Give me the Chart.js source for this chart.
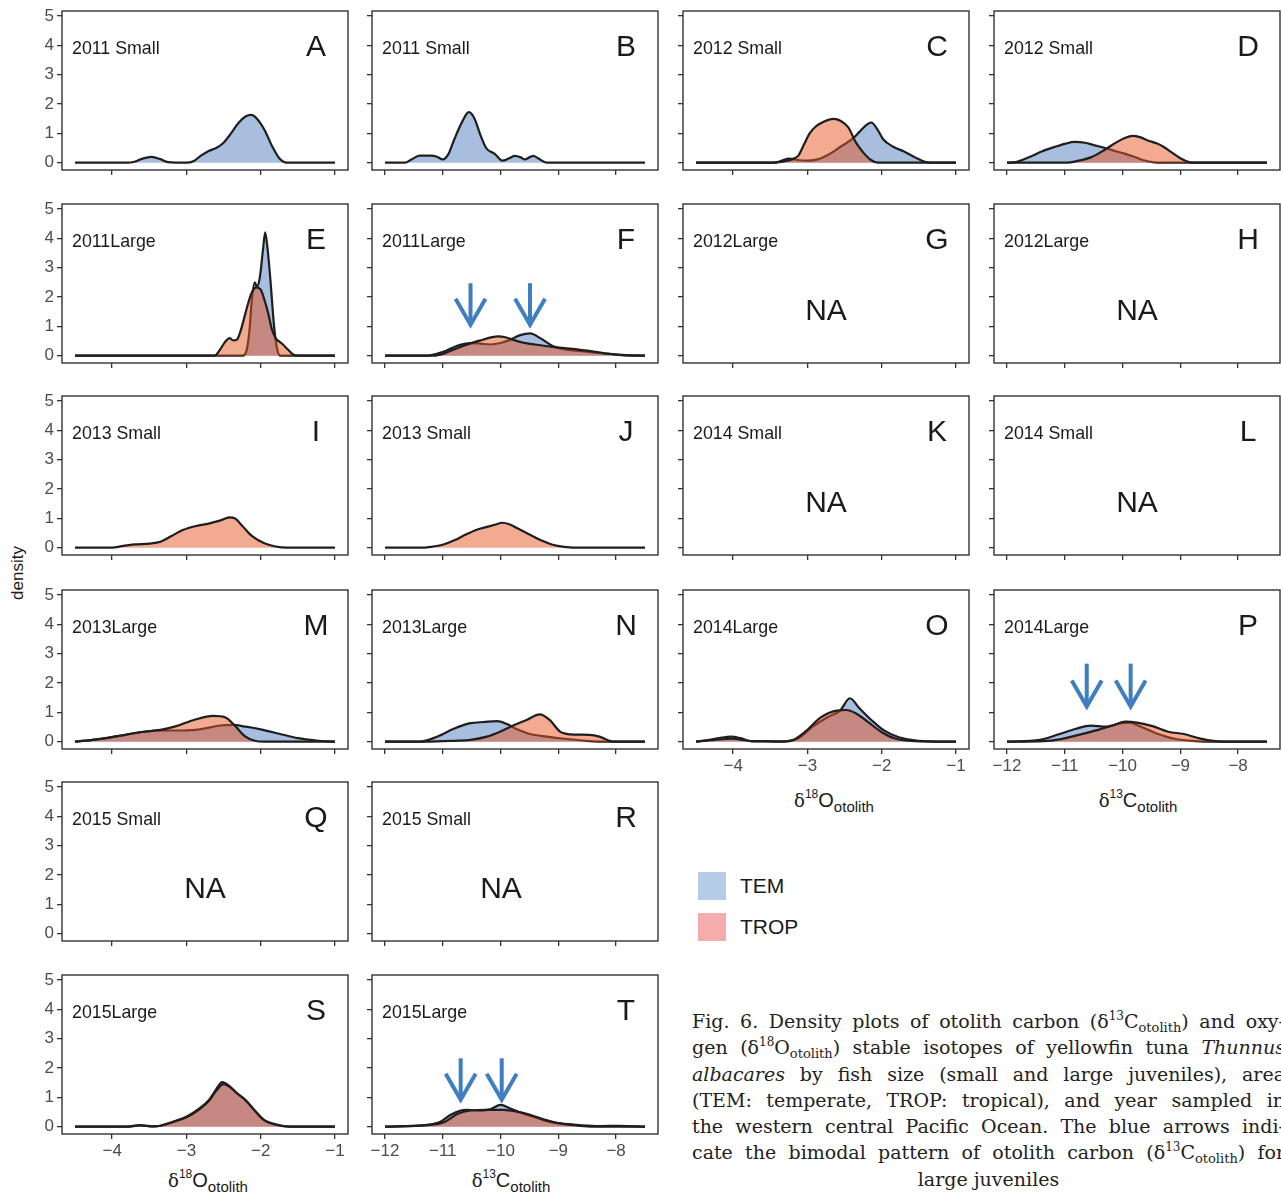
<!DOCTYPE html>
<html>
<head>
<meta charset="utf-8">
<script src="https://cdn.jsdelivr.net/npm/chart.js@4.4.1/dist/chart.umd.min.js"></script>
<style>
html, body { margin: 0; padding: 0; background: #fff; overflow: hidden; }
body { width: 1281px; height: 1194px; position: relative; font-family: "Liberation Sans", Arial, sans-serif; color: #1a1a1a; }
.abs { position: absolute; white-space: nowrap; }
.lab { font-size: 17.8px; line-height: 20px; }
.let { font-size: 30px; line-height: 30px; width: 40px; text-align: center; }
.na { font-size: 30px; line-height: 30px; width: 100px; text-align: center; }
.ttl { font-size: 20px; line-height: 24px; transform: translateX(-50%); }
.ttl .d { font-family: "DejaVu Serif", serif; font-size: 18px; }
.ttl sup { font-size: 12px; vertical-align: 9px; line-height: 0; }
.ttl sub { font-size: 15px; vertical-align: -5px; line-height: 0; }
.lg { font-size: 21px; line-height: 24px; }
.cap { position: absolute; left: 692px; width: 593px; font-family: "DejaVu Serif", serif; font-size: 19px; line-height: 26px; text-align: justify; text-align-last: justify; white-space: nowrap; color: #222; }
.cap.last { text-align: center; text-align-last: center; }
.cap sup { font-size: 12px; vertical-align: 8px; line-height: 0; }
.cap sub { font-size: 13px; vertical-align: -4px; line-height: 0; }
</style>
</head>
<body>

<div class="abs" style="left:8px;top:563px;width:20px;height:20px;">
  <div style="position:absolute;left:50%;top:50%;transform:translate(-50%,-50%) rotate(-90deg);font-size:17px;">density</div>
</div>

<div class="abs ttl" style="left:208px;top:1168px;"><span class="d">δ</span><sup>18</sup>O<sub>otolith</sub></div>
<div class="abs ttl" style="left:511px;top:1168px;"><span class="d">δ</span><sup>13</sup>C<sub>otolith</sub></div>
<div class="abs ttl" style="left:834px;top:788px;"><span class="d">δ</span><sup>18</sup>O<sub>otolith</sub></div>
<div class="abs ttl" style="left:1138px;top:788px;"><span class="d">δ</span><sup>13</sup>C<sub>otolith</sub></div>

<div class="abs" style="left:698px;top:872px;width:28px;height:28px;background:#b4cce5;"></div>
<div class="abs lg" style="left:740px;top:874px;">TEM</div>
<div class="abs" style="left:698px;top:913px;width:28px;height:28px;background:#f4acac;"></div>
<div class="abs lg" style="left:740px;top:915px;">TROP</div>

<div class="cap" style="top:1008px;">Fig. 6. Density plots of otolith carbon (δ<sup>13</sup>C<sub>otolith</sub>) and oxy-</div>
<div class="cap" style="top:1034px;">gen (δ<sup>18</sup>O<sub>otolith</sub>) stable isotopes of yellowfin tuna <i>Thunnus</i></div>
<div class="cap" style="top:1061px;"><i>albacares</i> by fish size (small and large juveniles), area</div>
<div class="cap" style="top:1087px;">(TEM: temperate, TROP: tropical), and year sampled in</div>
<div class="cap" style="top:1113px;">the western central Pacific Ocean. The blue arrows indi-</div>
<div class="cap" style="top:1139px;">cate the bimodal pattern of otolith carbon (δ<sup>13</sup>C<sub>otolith</sub>) for</div>
<div class="cap last" style="top:1166px;">large juveniles</div>

<script>
// density curves: [isotope value, density]
var A_tem = [[-4.5,0],[-3.8,0],[-3.7,0.03],[-3.6,0.13],[-3.47,0.2],[-3.35,0.12],[-3.25,0.02],[-3.0,0],[-2.9,0.06],[-2.8,0.25],[-2.7,0.4],[-2.6,0.5],[-2.5,0.68],[-2.4,1.0],[-2.3,1.35],[-2.2,1.58],[-2.13,1.63],[-2.05,1.5],[-1.95,1.12],[-1.85,0.58],[-1.75,0.15],[-1.65,0],[-1,0]];
var B_tem = [[-12,0],[-11.65,0],[-11.55,0.1],[-11.4,0.24],[-11.2,0.24],[-11.1,0.2],[-11.0,0.11],[-10.9,0.3],[-10.8,0.8],[-10.65,1.45],[-10.55,1.72],[-10.45,1.5],[-10.35,0.95],[-10.25,0.5],[-10.1,0.3],[-9.97,0.07],[-9.85,0.15],[-9.75,0.23],[-9.65,0.18],[-9.58,0.11],[-9.5,0.18],[-9.43,0.23],[-9.35,0.15],[-9.2,0],[-7.5,0]];
var C_tem = [[-4.5,0],[-3.45,0],[-3.35,0.06],[-3.25,0.14],[-3.15,0.1],[-3.0,0.07],[-2.85,0.12],[-2.7,0.3],[-2.55,0.55],[-2.4,0.8],[-2.3,1.05],[-2.2,1.3],[-2.14,1.37],[-2.05,1.1],[-1.98,0.8],[-1.85,0.55],[-1.7,0.38],[-1.55,0.18],[-1.42,0.03],[-1.35,0],[-1,0]];
var C_trop = [[-4.5,0],[-3.45,0],[-3.3,0.05],[-3.2,0.12],[-3.12,0.25],[-3.05,0.6],[-2.97,1.0],[-2.88,1.25],[-2.8,1.37],[-2.65,1.49],[-2.55,1.42],[-2.45,1.2],[-2.35,0.7],[-2.25,0.35],[-2.15,0.1],[-2.05,0],[-1,0]];
var D_tem = [[-12,0],[-11.85,0.02],[-11.6,0.2],[-11.4,0.38],[-11.2,0.52],[-11.0,0.64],[-10.83,0.71],[-10.65,0.68],[-10.5,0.6],[-10.3,0.5],[-10.1,0.38],[-9.95,0.3],[-9.8,0.2],[-9.65,0.09],[-9.45,0.01],[-9.3,0],[-7.5,0]];
var D_trop = [[-12,0],[-10.95,0],[-10.8,0.05],[-10.55,0.18],[-10.3,0.45],[-10.1,0.7],[-9.95,0.85],[-9.83,0.91],[-9.7,0.87],[-9.55,0.75],[-9.4,0.65],[-9.3,0.55],[-9.15,0.35],[-9.0,0.15],[-8.85,0.02],[-8.75,0],[-7.5,0]];
var E_tem = [[-4.5,0],[-2.25,0],[-2.2,0.1],[-2.15,0.9],[-2.12,1.9],[-2.08,2.5],[-2.05,2.35],[-2.01,2.7],[-1.97,3.6],[-1.94,4.2],[-1.91,3.7],[-1.87,2.6],[-1.82,1.0],[-1.78,0.25],[-1.74,0],[-1,0]];
var E_trop = [[-4.5,0],[-2.62,0],[-2.55,0.2],[-2.47,0.5],[-2.42,0.6],[-2.37,0.52],[-2.32,0.55],[-2.27,0.85],[-2.2,1.5],[-2.13,2.1],[-2.06,2.33],[-2.0,2.25],[-1.95,1.9],[-1.9,1.45],[-1.85,0.9],[-1.8,0.6],[-1.75,0.48],[-1.7,0.38],[-1.63,0.2],[-1.55,0.02],[-1.5,0],[-1,0]];
var F_tem = [[-12,0],[-11.3,0],[-11.2,0.02],[-10.98,0.14],[-10.75,0.34],[-10.52,0.43],[-10.35,0.41],[-10.18,0.38],[-10.0,0.43],[-9.85,0.53],[-9.66,0.7],[-9.49,0.76],[-9.3,0.58],[-9.1,0.33],[-8.9,0.22],[-8.6,0.15],[-8.3,0.09],[-7.9,0.03],[-7.5,0]];
var F_trop = [[-12,0],[-11.15,0],[-11.0,0.06],[-10.85,0.18],[-10.64,0.34],[-10.35,0.52],[-10.15,0.63],[-10.05,0.66],[-9.9,0.62],[-9.75,0.52],[-9.6,0.44],[-9.4,0.38],[-9.1,0.3],[-8.8,0.24],[-8.5,0.17],[-8.2,0.08],[-7.9,0.02],[-7.5,0]];
var I_trop = [[-4.5,0],[-4.0,0],[-3.85,0.06],[-3.7,0.11],[-3.5,0.14],[-3.35,0.2],[-3.2,0.4],[-3.05,0.6],[-2.87,0.74],[-2.7,0.82],[-2.55,0.92],[-2.42,1.03],[-2.35,1.0],[-2.25,0.75],[-2.12,0.4],[-1.95,0.15],[-1.8,0.04],[-1.65,0],[-1,0]];
var J_trop = [[-12,0],[-11.4,0],[-11.2,0.03],[-11.0,0.1],[-10.8,0.25],[-10.6,0.45],[-10.4,0.62],[-10.25,0.7],[-10.1,0.78],[-9.97,0.85],[-9.85,0.8],[-9.7,0.65],[-9.5,0.45],[-9.3,0.25],[-9.1,0.1],[-8.9,0.03],[-8.6,0],[-7.5,0]];
var M_tem = [[-4.5,0],[-4.2,0.08],[-3.9,0.2],[-3.6,0.33],[-3.3,0.38],[-3.05,0.38],[-2.8,0.43],[-2.55,0.55],[-2.37,0.57],[-2.2,0.51],[-2.0,0.42],[-1.75,0.27],[-1.5,0.12],[-1.25,0.04],[-1.0,0]];
var M_trop = [[-4.5,0],[-4.2,0.08],[-3.9,0.2],[-3.6,0.33],[-3.35,0.4],[-3.15,0.52],[-2.9,0.74],[-2.64,0.88],[-2.48,0.83],[-2.35,0.55],[-2.22,0.2],[-2.08,0.03],[-1.95,0],[-1,0]];
var N_tem = [[-12,0],[-11.4,0],[-11.1,0.17],[-10.8,0.45],[-10.52,0.63],[-10.29,0.67],[-10.06,0.7],[-9.89,0.6],[-9.72,0.43],[-9.49,0.26],[-9.2,0.17],[-8.86,0.09],[-8.52,0.03],[-8.1,0],[-7.5,0]];
var N_trop = [[-12,0],[-11.3,0],[-10.8,0.03],[-10.52,0.06],[-10.24,0.17],[-10.01,0.34],[-9.78,0.55],[-9.55,0.74],[-9.32,0.93],[-9.15,0.74],[-8.97,0.34],[-8.8,0.25],[-8.46,0.23],[-8.29,0.17],[-8.1,0.02],[-8.0,0],[-7.5,0]];
var O_tem = [[-4.5,0],[-4.34,0.05],[-4.15,0.14],[-4.03,0.17],[-3.9,0.12],[-3.76,0.02],[-3.6,0.02],[-3.4,0],[-3.13,0.11],[-2.93,0.51],[-2.72,0.85],[-2.56,1.06],[-2.43,1.48],[-2.3,1.14],[-2.14,0.74],[-1.98,0.4],[-1.77,0.15],[-1.51,0.03],[-1.0,0]];
var O_trop = [[-4.5,0],[-4.29,0.05],[-4.1,0.09],[-4.0,0.1],[-3.9,0.07],[-3.76,0.02],[-3.5,0.01],[-3.3,0.01],[-3.19,0.06],[-3.03,0.34],[-2.82,0.83],[-2.61,1.06],[-2.48,1.08],[-2.35,0.97],[-2.19,0.68],[-2.01,0.34],[-1.82,0.11],[-1.56,0.02],[-1.0,0]];
var P_tem = [[-12,0],[-11.43,0.06],[-11.09,0.26],[-10.82,0.43],[-10.55,0.55],[-10.29,0.51],[-10.02,0.63],[-9.88,0.65],[-9.68,0.51],[-9.41,0.28],[-9.08,0.09],[-8.74,0.02],[-8.4,0],[-7.5,0]];
var P_trop = [[-12,0],[-11.36,0.02],[-11.09,0.08],[-10.76,0.23],[-10.42,0.4],[-10.15,0.57],[-9.95,0.68],[-9.75,0.65],[-9.48,0.53],[-9.21,0.34],[-8.94,0.26],[-8.67,0.11],[-8.4,0.02],[-8.07,0],[-7.5,0]];
var S_tem = [[-4.5,0],[-3.8,0],[-3.63,0.05],[-3.45,0.01],[-3.35,0.03],[-3.18,0.17],[-3.0,0.34],[-2.82,0.63],[-2.69,0.93],[-2.6,1.27],[-2.52,1.52],[-2.42,1.38],[-2.33,1.15],[-2.24,0.98],[-2.11,0.63],[-1.97,0.25],[-1.79,0.06],[-1.62,0],[-1,0]];
var S_trop = [[-4.5,0],[-3.8,0],[-3.63,0.04],[-3.45,0.01],[-3.35,0.03],[-3.18,0.16],[-3.0,0.32],[-2.82,0.6],[-2.69,0.9],[-2.6,1.22],[-2.5,1.45],[-2.4,1.32],[-2.3,1.1],[-2.2,0.9],[-2.08,0.55],[-1.95,0.22],[-1.75,0.05],[-1.6,0],[-1,0]];
var T_tem = [[-12,0],[-11.27,0.06],[-11.04,0.17],[-10.87,0.4],[-10.69,0.55],[-10.58,0.57],[-10.35,0.55],[-10.18,0.59],[-10.0,0.74],[-9.83,0.62],[-9.66,0.48],[-9.43,0.34],[-9.2,0.19],[-8.97,0.11],[-8.62,0.05],[-8.28,0.02],[-7.94,0.03],[-7.5,0]];
var T_trop = [[-12,0],[-11.27,0.05],[-10.98,0.15],[-10.75,0.43],[-10.52,0.55],[-10.24,0.57],[-9.95,0.57],[-9.72,0.51],[-9.49,0.4],[-9.26,0.25],[-8.97,0.11],[-8.62,0.03],[-8.28,0],[-7.5,0]];

// blue arrows marking the two carbon modes (x position, top and tip in density units)
var arrowX = { F: [-10.52, -9.49], P: [-10.62, -9.86], T: [-10.69, -9.98] };
var arrowTop = { F: 2.47, P: 2.66, T: 2.33 };
var arrowTip = { F: 1.05, P: 1.2, T: 0.92 };

// where the "NA" note sits in the empty panels (x in data units)
var naX = { G: -2.75, H: -9.75, K: -2.75, L: -9.75, Q: -2.75, R: -10 };
var naY = 1.56;

var oxyTicks = [-4, -3, -2, -1];
var carbTicks = [-12, -11, -10, -9, -8];
var densTicks = [0, 1, 2, 3, 4, 5];

var panelLetters = ["A","B","C","D","E","F","G","H","I","J","K","L","M","N","O","P","Q","R","S","T"];
var panelTitles = ["2011 Small","2011 Small","2012 Small","2012 Small","2011Large","2011Large","2012Large","2012Large",
  "2013 Small","2013 Small","2014 Small","2014 Small","2013Large","2013Large","2014Large","2014Large",
  "2015 Small","2015 Small","2015Large","2015Large"];
var temSeries = { A: A_tem, B: B_tem, C: C_tem, D: D_tem, E: E_tem, F: F_tem, M: M_tem, N: N_tem, O: O_tem, P: P_tem, S: S_tem, T: T_tem };
var tropSeries = { C: C_trop, D: D_trop, E: E_trop, F: F_trop, I: I_trop, J: J_trop, M: M_trop, N: N_trop, O: O_trop, P: P_trop, S: S_trop, T: T_trop };
var bottomPanels = ["O","P","S","T"];

// layout of the facet grid
var colLeft = [62, 372, 683, 994];
var rowTop = [11, 204, 396, 590, 782, 975];
var boxW = 286, boxH = 159;
var panelRow = [0,0,0,0,1,1,1,1,2,2,2,2,3,3,3,3,4,4,5,5];
var panelCol = [0,1,2,3,0,1,2,3,0,1,2,3,0,1,2,3,0,1,0,1];

Chart.defaults.font.family = '"Liberation Sans", Arial, sans-serif';

function minus(v) { return v < 0 ? "\u2212" + Math.abs(v) : String(v); }
function pts(arr) { return arr.map(function(p) { return { x: p[0], y: p[1] }; }); }

var framePlugin = {
  id: "frame",
  afterDraw: function(chart) {
    var a = chart.chartArea, ctx = chart.ctx;
    ctx.save();
    ctx.strokeStyle = "#333";
    ctx.lineWidth = 1.4;
    ctx.strokeRect(a.left, a.top, a.right - a.left, a.bottom - a.top);
    ctx.restore();
  }
};

var arrowPlugin = {
  id: "arrows",
  afterDatasetsDraw: function(chart, args, opts) {
    if (!opts.xs) return;
    var ctx = chart.ctx, xs = chart.scales.x, ys = chart.scales.y;
    ctx.save();
    ctx.strokeStyle = "#3f7fc0";
    ctx.lineWidth = 4;
    ctx.lineCap = "butt";
    ctx.lineJoin = "miter";
    opts.xs.forEach(function(v) {
      var px = xs.getPixelForValue(v), y0 = ys.getPixelForValue(opts.top), y1 = ys.getPixelForValue(opts.tip);
      ctx.beginPath();
      ctx.moveTo(px, y0); ctx.lineTo(px, y1 - 2);
      ctx.stroke();
      ctx.beginPath();
      ctx.moveTo(px - 15, y1 - 26); ctx.lineTo(px, y1); ctx.lineTo(px + 15, y1 - 26);
      ctx.stroke();
    });
    ctx.restore();
  }
};

function addText(cls, txt, left, top) {
  var d = document.createElement("div");
  d.className = "abs " + cls;
  d.textContent = txt;
  d.style.left = left + "px";
  d.style.top = top + "px";
  document.body.appendChild(d);
}

panelLetters.forEach(function(L, i) {
  var r = panelRow[i], c = panelCol[i];
  var oxy = c % 2 === 0;
  var showX = bottomPanels.indexOf(L) >= 0;
  var showY = c === 0;
  var padL = showY ? 52 : 10, padR = 4, padT = 16, padB = showX ? 32 : 14;
  var bx = colLeft[c], by = rowTop[r];

  var cv = document.createElement("canvas");
  cv.width = boxW + padL + padR;
  cv.height = boxH + padT + padB;
  cv.style.position = "absolute";
  cv.style.left = (bx - padL) + "px";
  cv.style.top = (by - padT) + "px";
  document.body.appendChild(cv);

  var datasets = [];
  if (temSeries[L]) datasets.push({ label: "TEM", data: pts(temSeries[L]), backgroundColor: "rgba(81,125,191,0.5)", order: 2 });
  if (tropSeries[L]) datasets.push({ label: "TROP", data: pts(tropSeries[L]), backgroundColor: "rgba(229,86,36,0.5)", order: 1 });
  datasets.forEach(function(d) {
    d.fill = "origin"; d.borderColor = "#1e1e1e"; d.borderWidth = 2.2;
    d.pointRadius = 0; d.cubicInterpolationMode = "monotone";
  });

  var tickFont = { size: 17 };
  var chart = new Chart(cv, {
    type: "line",
    data: { datasets: datasets },
    options: {
      responsive: false, animation: false, devicePixelRatio: 1,
      layout: { padding: { top: padT, right: padR, left: 0, bottom: 0 } },
      plugins: {
        legend: { display: false }, tooltip: { enabled: false },
        arrows: arrowX[L] ? { xs: arrowX[L], top: arrowTop[L], tip: arrowTip[L] } : {}
      },
      scales: {
        x: {
          type: "linear",
          min: oxy ? -4.675 : -12.225, max: oxy ? -0.825 : -7.275,
          afterBuildTicks: function(s) { s.ticks = (oxy ? oxyTicks : carbTicks).map(function(v) { return { value: v }; }); },
          afterFit: function(s) { s.height = padB; },
          grid: { drawOnChartArea: false, drawTicks: true, tickLength: 5, color: "#333", lineWidth: 1.3 },
          border: { display: false },
          ticks: { display: showX, font: tickFont, color: "#4d4d4d", padding: 2, maxRotation: 0, callback: minus }
        },
        y: {
          type: "linear", min: -0.25, max: 5.17,
          afterBuildTicks: function(s) { s.ticks = densTicks.map(function(v) { return { value: v }; }); },
          afterFit: function(s) { s.width = padL; },
          grid: { drawOnChartArea: false, drawTicks: true, tickLength: 5, color: "#333", lineWidth: 1.3 },
          border: { display: false },
          ticks: { display: showY, font: tickFont, color: "#4d4d4d", padding: 3, callback: minus }
        }
      }
    },
    plugins: [framePlugin, arrowPlugin]
  });

  addText("lab", panelTitles[i], bx + 10, by + 27);
  addText("let", L, bx + boxW - 52, by + 20);
  if (naX[L] !== undefined) {
    var nx = bx - padL + chart.scales.x.getPixelForValue(naX[L]);
    var ny = by - padT + chart.scales.y.getPixelForValue(naY);
    addText("na", "NA", Math.round(nx - 50), Math.round(ny - 15));
  }
});
</script>
</body>
</html>
